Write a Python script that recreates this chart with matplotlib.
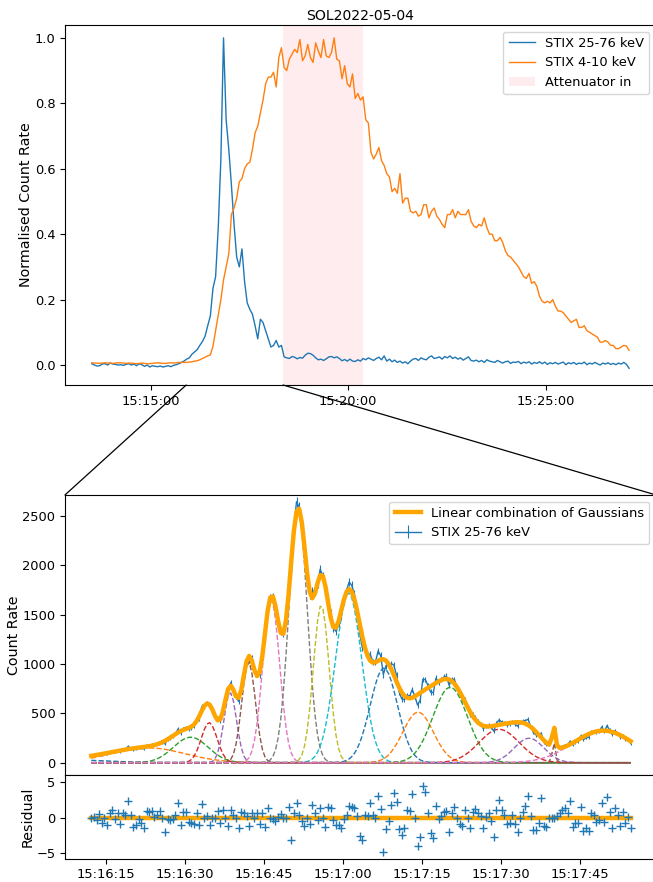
import numpy as np
import matplotlib
matplotlib.use("Agg")
import matplotlib.pyplot as plt
import matplotlib.dates as mdates
from matplotlib.patches import Patch, ConnectionPatch

plt.rcParams['font.size'] = 9.4

# ---- overview light curves (4 s cadence, normalised) ----
lc_start = np.datetime64('2022-05-04T15:13:30.600')
lc_step = np.timedelta64(4000, 'ms')

hxr_norm = [0.004, 0.0, -0.003, -0.002, 0.003, 0.004, 0.0, 0.006, 0.003, 0.002, 0.0, 0.001, -0.001, 0.002,
            0.004, 0.0, 0.003, -0.002, 0.004, 0.001, -0.004, 0.0, -0.006, -0.002, -0.004, -0.005, -0.003,
            -0.006, -0.004, -0.002, -0.005, -0.001, 0.001,
            0.004, 0.008, 0.012, 0.018, 0.022, 0.033, 0.04, 0.047, 0.06, 0.072, 0.088, 0.12, 0.15, 0.235,
            0.27, 0.42, 0.63, 1.0, 0.75, 0.66, 0.55, 0.43, 0.33, 0.30, 0.355, 0.255, 0.19, 0.17, 0.155,
            0.12, 0.08, 0.14, 0.13, 0.105, 0.08, 0.055, 0.06, 0.075, 0.055, 0.06, 0.025,
            0.022, 0.020, 0.026, 0.024, 0.019, 0.023, 0.021, 0.03, 0.036, 0.035, 0.03, 0.022, 0.016, 0.018,
            0.014, 0.019, 0.025, 0.026, 0.022, 0.025, 0.02, 0.013, 0.017, 0.012, 0.018, 0.012, 0.011,
            0.016, 0.012, 0.02, 0.016, 0.022, 0.018, 0.014, 0.02, 0.024, 0.016, 0.028, 0.012, 0.018,
            0.01, 0.015, 0.008, 0.012, 0.006, 0.01, 0.004, 0.012, 0.018, 0.02, 0.014, 0.022, 0.018, 0.016,
            0.024, 0.028, 0.02, 0.022, 0.025, 0.018, 0.026, 0.022, 0.028, 0.02, 0.024, 0.018, 0.022,
            0.015, 0.02, 0.025, 0.014, 0.012, 0.015, 0.01, 0.014, 0.008, 0.016, 0.012, 0.01, 0.008,
            0.014, 0.01, 0.006, 0.01, 0.012, 0.005, 0.009, 0.008, 0.011, 0.004, 0.009, 0.006, 0.01,
            0.003, 0.008, 0.005, 0.01, 0.004, 0.009, 0.002, 0.007, 0.004, 0.008, 0.003, 0.006, 0.009,
            0.001, 0.007, 0.004, 0.008, 0.002, 0.006, 0.004, 0.009, 0.001, 0.006, 0.003, 0.008, 0.004,
            0.0, 0.006, 0.003, 0.007, 0.002, 0.005, 0.001, 0.006, 0.003, 0.008, 0.002, -0.01]

sxr_norm = [0.007, 0.006, 0.006, 0.005, 0.006, 0.007, 0.006, 0.006, 0.005, 0.006, 0.007, 0.007, 0.006,
            0.005, 0.006, 0.006, 0.005, 0.004, 0.005, 0.006, 0.005, 0.004, 0.004, 0.005, 0.006, 0.007,
            0.006, 0.005, 0.005, 0.006, 0.007, 0.006, 0.007, 0.008, 0.008, 0.008,
            0.008, 0.009, 0.010, 0.012, 0.013, 0.016, 0.020, 0.024, 0.028, 0.031, 0.058, 0.105, 0.15,
            0.20, 0.26, 0.30, 0.34, 0.46, 0.48, 0.51, 0.56, 0.57, 0.60, 0.615, 0.62, 0.66, 0.71, 0.73,
            0.77, 0.81, 0.86, 0.88, 0.88, 0.895, 0.85, 0.94, 0.97, 0.91, 0.90, 0.935, 0.95, 0.965,
            0.955, 0.995, 0.93, 0.945, 0.98, 0.94, 0.925, 0.985, 0.96, 0.94, 0.995, 0.945, 0.94, 0.955,
            1.0, 0.935, 0.93, 0.875, 0.915, 0.86, 0.85, 0.89, 0.815, 0.83, 0.81, 0.82, 0.75, 0.74,
            0.65, 0.63, 0.645, 0.665, 0.625, 0.61, 0.585, 0.575, 0.53, 0.54, 0.525, 0.585, 0.495, 0.51,
            0.51, 0.47, 0.465, 0.47, 0.455, 0.46, 0.49, 0.49, 0.45, 0.47, 0.48, 0.455, 0.445, 0.43,
            0.42, 0.46, 0.46, 0.475, 0.45, 0.47, 0.46, 0.46, 0.46, 0.475, 0.44, 0.425, 0.42, 0.43,
            0.425, 0.45, 0.42, 0.40, 0.40, 0.38, 0.38, 0.39, 0.375, 0.35, 0.335, 0.33, 0.32, 0.31, 0.30,
            0.285, 0.27, 0.265, 0.28, 0.25, 0.255, 0.24, 0.21, 0.195, 0.19, 0.195, 0.19, 0.20, 0.18,
            0.165, 0.165, 0.16, 0.15, 0.14, 0.13, 0.135, 0.14, 0.115, 0.115, 0.12, 0.105, 0.10, 0.095,
            0.09, 0.085, 0.07, 0.07, 0.075, 0.07, 0.06, 0.06, 0.05, 0.05, 0.055, 0.06, 0.058, 0.045]

atten_in = np.datetime64('2022-05-04T15:18:21')
atten_out = np.datetime64('2022-05-04T15:20:23')
zoom_from = np.datetime64('2022-05-04T15:15:54')

# ---- zoomed peak (0.5 s cadence) ----
peak_ref = np.datetime64('2022-05-04T15:16:00')
peak_t0 = 12.2  # s after 15:16:00
peak_xlim = (7.2, 119.5)
residual = [0, 0.1, -0.4, 0.5, -0.7, -0.1, -1.1, 0.6, 1.1, -0.2, 0.7, -0.9, 0.6, 0.4, 2.3, 0.3, -1.3,
            -1.0, -0.2, -0.7, -1.5, 0.9, 0.8, 0.9, 0.1, 0.4, 0.9, 0, -2.1, -0.2, -0.3, -0.2, 0.3, 2.1,
            -1.0, 0.8, 0.8, -0.6, -0.8, -0.9, 0.7, -1.0, 1.9, -0.1, 0.2, -1.0, 0, -0.1, 0.9, -0.7, 1.0,
            -0.1, -1.2, 1.1, 0.3, 0, -1.4, 0.8, 0.6, 0.2, -1.2, 0.7, 0, 0.7, -0.9, 0.7, -1.3, 1.4,
            0, -0.2, -0.5, 0.1, 0.5, 0, -0.1, 1.5, -3.1, 0.7, 2.0, 0.3, -0.5, -1.2, -0.1, -0.9, 1.8,
            0.7, -0.3, 1.4, 0, -1.3, 1.5, 1.3, -0.3, -1.0, -1.0, -1.5, -0.2, 0.4, 1.7, 1.5, 1.3, 0.2,
            -2.6, -3.1, 0.4, 0.2, 2.1, 0.3, 0, 3.1, 1.2, -4.8, -1.6, -0.5, 1.8, 3.4, 2.2, -1.6, -2.5,
            -1.5, 1.0, 0.9, 3.3, -0.1, -4.0, -2.8, 4.4, 3.6, 0.7, -2.2, -2.9, 1.7, -0.2, 0.2, 0.8, 0.9,
            -2.0,
            0.6, 1.5, 0, -0.9, -1.2, 1.1, 0, -1.4, 0.8, 1.2, 0.7, 0.2, -1.5, 0.1, 0.7, -0.5, -2.8, 1.1,
            2.5, 1.1, 0.4, -0.9, -0.7, 0.4, -0.9, -2.0, 0, 0.8, 1.6, 3.0, 0.2, -1.8, -1.8, -0.7, 2.8,
            -1.2, -1.3, 0, 0, 0, 0.2, 0.6, 1.1, 1.3, 0.7, 2.3, -1.3, -0.7, -0.8, 1.5, -1.9, -1.5, -1.9,
            0.7, 0.3, -0.6, -0.4, 2.1, -0.6, 2.9, 0.8, -1.5, 1.4, 0.4, -1.2, 0.8, -0.7, 0.1, -1.5]

# gaussian components: centre (s after 15:16:00), amplitude, sigma (s)
g_centre = [10.0, 23.0, 31.1, 34.6, 38.6, 42.1, 46.4, 51.5, 55.9, 61.1, 67.8, 74.3, 80.4, 89.7, 95.4, 100.1, 109.5]
g_amp = [25, 150, 258, 406, 710, 1020, 1650, 2550, 1600, 1720, 958, 512, 765, 338, 248, 210, 325]
g_sigma = [6.0, 7.0, 3.3, 1.5, 1.2, 1.3, 1.6, 1.76, 1.5, 2.5, 2.6, 2.9, 3.3, 3.8, 2.8, 0.3, 5.8]


def to_time(s):
    return peak_ref + (np.asarray(s) * 1000).astype(int) * np.timedelta64(1, 'ms')


# ---- build arrays ----
t_hxr = lc_start + np.arange(len(hxr_norm)) * lc_step
t_sxr = lc_start + np.arange(len(sxr_norm)) * lc_step

sec = peak_t0 + 0.5 * np.arange(len(residual))
t_peak = to_time(sec)
components = [a * np.exp(-0.5 * ((sec - c) / s) ** 2) for c, a, s in zip(g_centre, g_amp, g_sigma)]
model = np.sum(components, axis=0)
err = np.sqrt(model)
counts = model + np.array(residual) * err

fig = plt.figure(figsize=(6.53, 8.82), dpi=100)
ax1 = fig.add_axes([0.0995, 0.5635, 0.905, 0.408])
ax2 = fig.add_axes([0.0995, 0.1213, 0.905, 0.3175])
ax3 = fig.add_axes([0.0995, 0.0264, 0.905, 0.0949], sharex=ax2)

att_col = '#ffecee'
ax1.axvspan(atten_in, atten_out, color=att_col, lw=0)
ax1.plot(t_hxr, hxr_norm, color='C0', lw=1.0)
ax1.plot(t_sxr, sxr_norm, color='C1', lw=1.0)
ax1.set_ylim(-0.061, 1.039)
ax1.set_ylabel('Normalised Count Rate', fontsize=10.3, labelpad=1)
ax1.set_title('SOL2022-05-04', fontsize=10.1, pad=4)
ax1.xaxis.set_major_locator(mdates.MinuteLocator(byminute=[15, 20, 25]))
ax1.xaxis.set_major_formatter(mdates.DateFormatter('%H:%M:%S'))
handles = [plt.Line2D([], [], color='C0', lw=1.0), plt.Line2D([], [], color='C1', lw=1.0),
           Patch(facecolor=att_col)]
ax1.legend(handles, ['STIX 25-76 keV', 'STIX 4-10 keV', 'Attenuator in'], loc='upper right')

ax2.errorbar(t_peak, counts, yerr=err, color='C0', lw=1.0, elinewidth=0.8, label='STIX 25-76 keV')
for i, comp in enumerate(components):
    ax2.plot(t_peak, comp, '--', color=f'C{i % 10}', lw=1.0)
ax2.plot(t_peak, model, color='orange', lw=3.2, label='Linear combination of Gaussians', zorder=4)
ax2.set_ylim(-125, 2713)
ax2.set_xlim(to_time(peak_xlim[0]), to_time(peak_xlim[1]))
ax2.set_ylabel('Count Rate', fontsize=10.3, labelpad=1)
ax2.tick_params(labelbottom=False)
ax2.legend(loc='upper right')

ax3.plot(t_peak, np.zeros(len(sec)), color='orange', lw=3.2)
ax3.plot(t_peak, residual, '+', color='C0', ms=5.5)
ax3.set_ylim(-5.8, 6.0)
ax3.set_yticks([-5, 0, 5])
ax3.set_ylabel('Residual', fontsize=10.3, labelpad=1)
ax3.xaxis.set_major_locator(mdates.SecondLocator(bysecond=[0, 15, 30, 45]))
ax3.xaxis.set_major_formatter(mdates.DateFormatter('%H:%M:%S'))

# zoom connectors
for xa, xb in [(zoom_from, 0), (atten_in, 1)]:
    con = ConnectionPatch(xyA=(mdates.date2num(xa), -0.061), coordsA=ax1.transData,
                          xyB=(xb, 1), coordsB=ax2.transAxes, color='black', lw=0.9)
    fig.add_artist(con)

fig.savefig('out.png', dpi=100)
